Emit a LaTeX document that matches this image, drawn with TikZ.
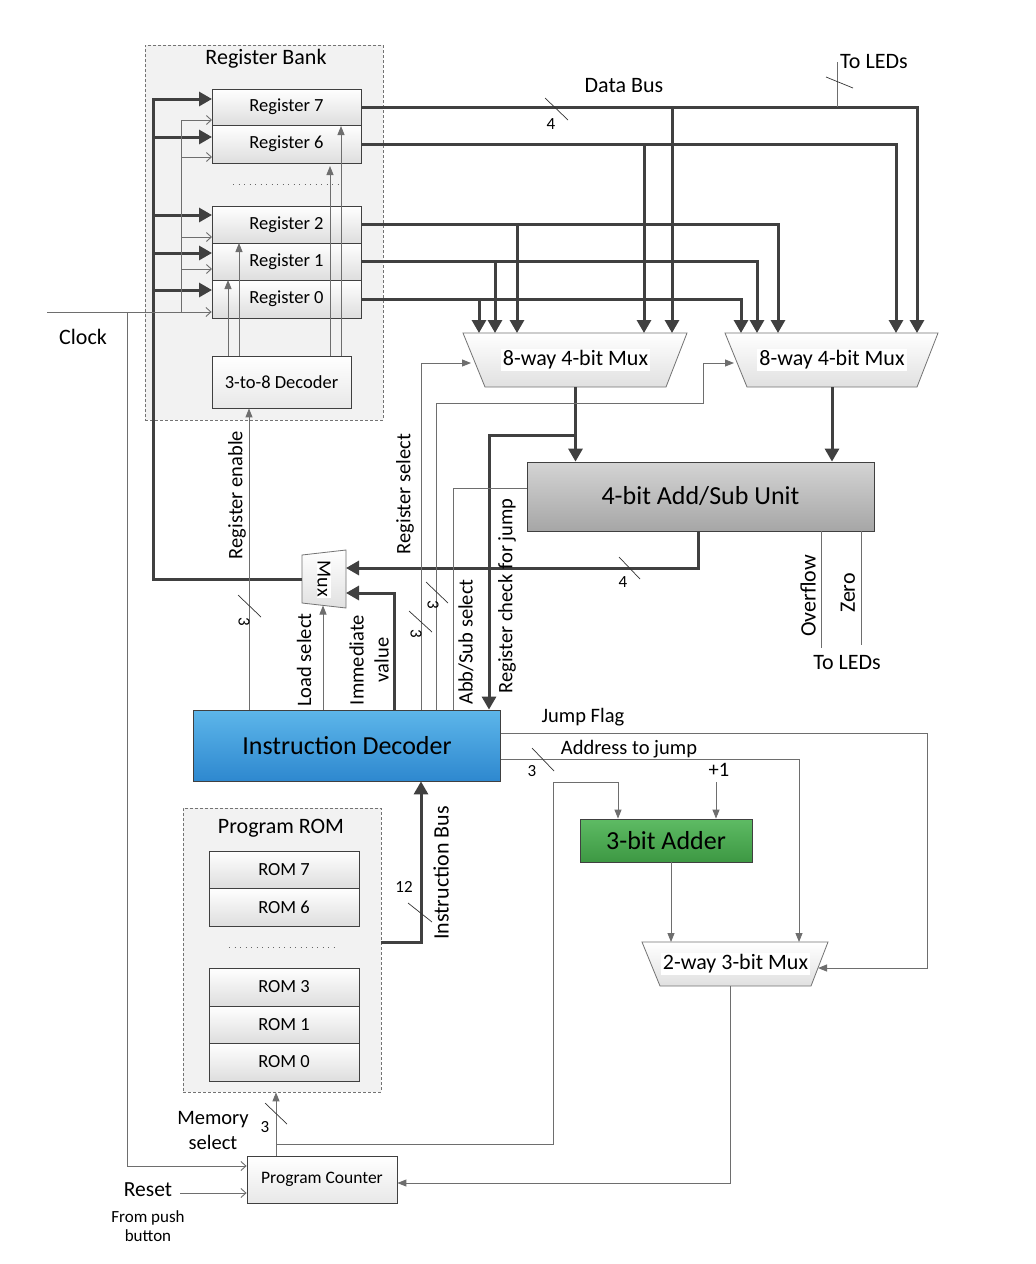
\documentclass[tikz,border=0pt]{standalone}
\usepackage{fontspec}
\setmainfont{Carlito}
\usetikzlibrary{arrows.meta,calc}
\definecolor{thk}{HTML}{404040}
\definecolor{thn}{HTML}{6E6E6E}
\definecolor{bankfill}{HTML}{F2F2F2}
\definecolor{idtop}{HTML}{5DB6EA}
\definecolor{idbot}{HTML}{2E88CF}
\definecolor{alutop}{HTML}{D4D4D4}
\definecolor{alubot}{HTML}{A6A6A6}
\definecolor{addtop}{HTML}{5EBB64}
\definecolor{addbot}{HTML}{3D9843}
\newcommand\fsreg{\fontsize{18.5}{22}\selectfont}
\newcommand\fsbig{\fontsize{26}{31}\selectfont}
\newcommand\fstitle{\fontsize{22}{26}\selectfont}
\newcommand\fslab{\fontsize{20.5}{25}\selectfont}
\newcommand\fssmall{\fontsize{17}{21}\selectfont}
\tikzset{
  bus/.style={draw=thk, line width=3pt},
  busarr/.style={bus, -{Triangle[width=14pt,length=13pt]}},
  sig/.style={draw=thn, line width=0.9pt},
  sigarr/.style={sig, -{Triangle[width=7pt,length=9pt]}},
  clkarr/.style={sig, -{Straight Barb[width=9pt,length=5pt]}},
  slash/.style={draw=black!80, line width=0.7pt},
  groupbox/.style={draw=black!55, dash pattern=on 3pt off 2pt, line width=0.7pt, fill=bankfill, inner sep=0pt},
  regbox/.style={draw=black!75, line width=0.8pt, top color=white, bottom color=black!13, minimum width=149pt, minimum height=37pt, inner sep=0pt, font=\fsreg},
  plainbox/.style={draw=black!75, line width=0.8pt, top color=white, bottom color=black!9, inner sep=0pt, font=\fsreg},
  muxbody/.style={inner sep=0pt, outer sep=0pt},
  muxshape/.style={draw=black!55, line width=0.8pt, top color=white, bottom color=black!12},
  muxtext/.style={fill=white, inner sep=2pt, font=\fstitle},
  lab/.style={font=\fslab, inner sep=0pt},
  vlab/.style={font=\fslab, inner sep=0pt, rotate=90},
  num/.style={font=\fssmall, inner sep=0pt},
  dots/.style={draw=black!60, line width=0.8pt, dash pattern=on 1pt off 4.5pt},
}
\begin{document}
\begin{tikzpicture}[x=1pt,y=-1pt]
\fill[white] (0,0) rectangle (1036,1264);
\path[use as bounding box] (0,0) rectangle (1036,1264);

% ---------------- Register bank
\node[groupbox, minimum width=238pt, minimum height=375pt] (bank) at (264,232.5) {};
\node[font=\fstitle] (banktitle) at (266,59) {Register Bank};
\node[regbox, minimum height=36pt] (reg7) at (286.5,107) {Register 7};
\node[regbox, minimum height=38pt] (reg6) at (286.5,144) {Register 6};
\node[regbox] (reg2) at (286.5,224.5) {Register 2};
\node[regbox] (reg1) at (286.5,261.5) {Register 1};
\node[regbox, minimum height=38pt] (reg0) at (286.5,299) {Register 0};
\coordinate (rdA) at (233,184); \coordinate (rdB) at (340,184);
\draw[dots] (rdA) -- (rdB);
\node[plainbox, minimum width=139pt, minimum height=52pt] (dec) at (281.5,382) {3-to-8 Decoder};

% decoder outputs
\coordinate (d0) at (228,280); \coordinate (d1) at (239,243);
\coordinate (d6) at (330,166); \coordinate (d7) at (341,126);
\foreach \c in {d0,d1,d6,d7} \draw[sigarr] (\c |- dec.north) -- (\c);

% ---------------- Program ROM
\node[groupbox, minimum width=198pt, minimum height=284pt] (rom) at (282,950) {};
\node[font=\fstitle] (romtitle) at (281,828) {Program ROM};
\node[regbox, minimum width=150pt, minimum height=37pt] (rom7) at (284,869.5) {ROM 7};
\node[regbox, minimum width=150pt, minimum height=38pt] (rom6) at (284,907) {ROM 6};
\coordinate (rmA) at (229,947); \coordinate (rmB) at (339,947);
\draw[dots] (rmA) -- (rmB);
\node[regbox, minimum width=150pt, minimum height=38pt] (rom3) at (284,987) {ROM 3};
\node[regbox, minimum width=150pt, minimum height=37pt] (rom1) at (284,1024.5) {ROM 1};
\node[regbox, minimum width=150pt, minimum height=38pt] (rom0) at (284,1062) {ROM 0};

% ---------------- Main blocks
\node[draw=thk, line width=0.8pt, top color=alutop, bottom color=alubot, minimum width=347pt, minimum height=69pt, font=\fsbig] (alu) at (700.5,496.5) {4-bit Add/Sub Unit};
\node[draw=thk, line width=0.8pt, top color=idtop, bottom color=idbot, minimum width=307pt, minimum height=71pt, font=\fsbig] (idec) at (347,745.5) {Instruction Decoder};
\node[draw=thk, line width=0.8pt, top color=addtop, bottom color=addbot, minimum width=172pt, minimum height=43pt, font=\fsbig] (adder) at (666,840.5) {3-bit Adder};
\node[plainbox, minimum width=150pt, minimum height=47pt, font=\fontsize{17.5}{21}\selectfont] (pc) at (322,1179.5) {Program Counter};

% muxes
\node[muxbody, minimum width=181pt, minimum height=54pt] (mux1) at (575.5,360) {};
\path[muxshape] ($(mux1.north west)+(-22,0)$) -- ($(mux1.north east)+(21,0)$) -- (mux1.south east) -- (mux1.south west) -- cycle;
\node[muxtext] (mux1t) at (mux1) {8-way 4-bit Mux};
\node[muxbody, minimum width=170pt, minimum height=54pt] (mux2) at (832,360) {};
\path[muxshape] ($(mux2.north west)+(-22,0)$) -- ($(mux2.north east)+(21,0)$) -- (mux2.south east) -- (mux2.south west) -- cycle;
\node[muxtext] (mux2t) at (mux2) {8-way 4-bit Mux};
\node[muxbody, minimum width=151pt, minimum height=44pt] (mux3) at (735.5,964) {};
\path[muxshape] ($(mux3.north west)+(-18,0)$) -- ($(mux3.north east)+(17,0)$) -- (mux3.south east) -- (mux3.south west) -- cycle;
\node[muxtext] (mux3t) at (mux3) {2-way 3-bit Mux};
\node[muxbody, minimum width=44pt, minimum height=58pt] (smux) at (324,579) {};
\path[muxshape] ($(smux.north west)+(0,5)$) -- (smux.north east) -- (smux.south east) -- ($(smux.south west)+(0,-5)$) -- cycle;
\node[fill=white, inner sep=1pt, font=\fontsize{20}{24}\selectfont, rotate=-90] (smuxt) at (smux) {Mux};

% ---------------- Data bus
\coordinate (m1a) at (479,333); \coordinate (m1b) at (495,333); \coordinate (m1c) at (517,333);
\coordinate (m1d) at (644,333); \coordinate (m1e) at (672,333);
\coordinate (m2a) at (741,333); \coordinate (m2b) at (757,333); \coordinate (m2c) at (778,333);
\coordinate (m2d) at (896,333); \coordinate (m2e) at (917,333);
\draw[busarr] (reg7.east) -| (m2e);
\draw[busarr] (reg6.east) -| (m2d);
\draw[busarr] (reg2.east) -| (m2c);
\draw[busarr] (reg1.east) -| (m2b);
\draw[busarr] (reg0.east) -| (m2a);
\draw[busarr] (m1e |- reg7.east) -- (m1e);
\draw[busarr] (m1d |- reg6.east) -- (m1d);
\draw[busarr] (m1c |- reg2.east) -- (m1c);
\draw[busarr] (m1b |- reg1.east) -- (m1b);
\draw[busarr] (m1a |- reg0.east) -- (m1a);
\node[font=\fstitle] (dbus) at (624,86) {Data Bus};
\coordinate (dsa) at (545,98); \coordinate (dsb) at (568,120);
\draw[slash] (dsa) -- (dsb);
\node[num] (dsn) at (551,124) {4};
% to LEDs (top)
\coordinate (ledtop) at (837,62);
\draw[sig] (ledtop |- reg7.east) -- (ledtop);
\coordinate (lsa) at (826,77); \coordinate (lsb) at (853,88);
\draw[slash] (lsa) -- (lsb);
\node[font=\fstitle, anchor=west, inner sep=0pt] (ledtxt) at (840,62) {To LEDs};

% mux outputs to ALU
\draw[busarr] (mux1.south) -- (mux1.south |- alu.north);
\draw[busarr] (mux2.south) -- (mux2.south |- alu.north);
% register check for jump
\coordinate (rcj) at (489,435);
\draw[busarr] (mux1.south |- rcj) -- (rcj) -- (rcj |- idec.north);
% ALU output to Mux
\coordinate (aluo) at (698,568);
\draw[busarr] (aluo |- alu.south) -- (aluo) -- (aluo -| smux.east);
\coordinate (asa) at (619,557); \coordinate (asb) at (640,579);
\draw[slash] (asa) -- (asb);
\node[num] (asn) at (623,582) {4};
% immediate value
\coordinate (imm) at (394,593);
\draw[busarr] (imm |- idec.north) -- (imm) -- (imm -| smux.east);
% mux output to registers
\coordinate (bustop) at (153,99);
\coordinate (b7) at (212,99);
\coordinate (b6) at (212,137); \coordinate (b2) at (212,215);
\coordinate (b1) at (212,253); \coordinate (b0) at (212,290);
\draw[busarr] (smux.west) -| (bustop) -- (b7);
\foreach \c in {b6,b2,b1,b0} \draw[busarr] (\c -| bustop) -- (\c);

% ---------------- Clock
\coordinate (clkin) at (47,312);
\coordinate (clkv) at (181,120);
\coordinate (clkpc) at (127,1166);
\coordinate (c7) at (212,120); \coordinate (c6) at (212,157);
\coordinate (c2) at (212,237); \coordinate (c1) at (212,269);
\draw[clkarr] (clkin) -- (clkin -| reg0.west);
\draw[sig] (clkin -| clkv) -- (clkv);
\foreach \c in {c7,c6,c2,c1} \draw[clkarr] (\c -| clkv) -- (\c);
\draw[clkarr] (clkin -| clkpc) -- (clkpc) -- (clkpc -| pc.west);
\node[font=\fstitle] (clktxt) at (83,337) {Clock};
% reset
\coordinate (rst) at (180,1193);
\draw[clkarr] (rst) -- (rst -| pc.west);
\node[font=\fontsize{21.5}{25}\selectfont] (rsttxt) at (148,1190) {Reset};
\node[font=\fssmall, align=center] (rsttxt2) at (148,1226) {From push\\[-2pt]button};

% ---------------- Decoder control signals
\coordinate (ren) at (249,500);
\draw[sigarr] (ren |- idec.north) -- (ren |- dec.south);
\coordinate (rea) at (238,595); \coordinate (reb) at (261,617);
\draw[slash] (rea) -- (reb);
\node[num, rotate=-90] (ren3) at (244,622) {3};
\node[vlab] (rentxt) at (237,495) {Register enable};

\coordinate (lds) at (323,605.5);
\draw[sigarr] (lds |- idec.north) -- (lds);
\node[vlab] (ldstxt) at (304,660) {Load select};
\node[vlab, align=center] (immtxt) at (369,660) {Immediate\\value};

\coordinate (rs1) at (421,363); \coordinate (rs1t) at (471,363);
\draw[sigarr] (rs1 |- idec.north) -- (rs1) -- (rs1t);
\coordinate (rs2) at (436,403); \coordinate (rs2b) at (703,403); \coordinate (rs2t) at (734,363);
\draw[sigarr] (rs2 |- idec.north) -- (rs2) -- (rs2b) -- (rs2b |- rs2t) -- (rs2t);
\node[vlab] (rstxt) at (405,494) {Register select};
\coordinate (rsa) at (409,611); \coordinate (rsb) at (432,632);
\draw[slash] (rsa) -- (rsb);
\node[num, rotate=-90] (rs3a) at (416,634) {3};
\coordinate (rsc) at (426,582); \coordinate (rsd) at (448,603);
\draw[slash] (rsc) -- (rsd);
\node[num, rotate=-90] (rs3b) at (433,605) {3};

\coordinate (abs) at (453,488);
\draw[sig] (abs |- idec.north) -- (abs) -- (abs -| alu.west);
\node[vlab] (abstxt) at (466,642) {Abb/Sub select};
\node[vlab] (rcjtxt) at (507,596) {Register check for jump};

% overflow / zero
\coordinate (ovf) at (821,648); \coordinate (zro) at (861,645);
\draw[sig] (ovf |- alu.south) -- (ovf);
\draw[sig] (zro |- alu.south) -- (zro);
\node[font=\fstitle, rotate=90, inner sep=0pt] (ovftxt) at (808,596) {Overflow};
\node[font=\fstitle, rotate=90, inner sep=0pt] (zrotxt) at (848,593) {Zero};
\node[font=\fstitle] (ledtxt2) at (847,663) {To LEDs};

% ---------------- Jump logic
\coordinate (jf) at (927,733); \coordinate (jfin) at (818,968);
\draw[sigarr] (jf -| idec.east) -- (jf) -- (jf |- jfin) -- (jfin);
\node[lab] (jftxt) at (583,717) {Jump Flag};
\coordinate (adr) at (799,759);
\draw[sigarr] (adr -| idec.east) -- (adr) -- (adr |- mux3.north);
\node[lab] (adrtxt) at (629,749) {Address to jump};
\coordinate (ada) at (532,748); \coordinate (adb) at (554,771);
\draw[slash] (ada) -- (adb);
\node[num] (adr3) at (532,771) {3};
\coordinate (plus) at (716,782);
\draw[sigarr] (plus) -- (plus |- adder.north);
\node[lab] (plustxt) at (719,770) {+1};
\coordinate (addo) at (671,900);
\draw[sigarr] (addo |- adder.south) -- (addo |- mux3.north);
\coordinate (m3o) at (730,1183);
\draw[sigarr] (m3o |- mux3.south) -- (m3o) -- (m3o -| pc.east);

% PC outputs
\coordinate (pco) at (276,1144);
\draw[sigarr] (pco |- pc.north) -- (pco |- rom.south);
\coordinate (pcb) at (553,782); \coordinate (pcbt) at (618,782);
\draw[sigarr] (pco) -- (pco -| pcb) -- (pcb) -- (pcbt) -- (pcbt |- adder.north);
\coordinate (msa) at (265,1103); \coordinate (msb) at (287,1124);
\draw[slash] (msa) -- (msb);
\node[num] (ms3) at (265,1127) {3};
\node[lab, align=center] (mstxt) at (213,1130) {Memory\\select};

% instruction bus
\coordinate (ib) at (421,942);
\draw[busarr] (ib -| rom.east) -- (ib) -- (ib |- idec.south);
\coordinate (iba) at (408,903); \coordinate (ibb) at (432,922);
\draw[slash] (iba) -- (ibb);
\node[num] (ib12) at (404,887) {12};
\node[font=\fstitle, rotate=90, inner sep=0pt] (ibtxt) at (441,873) {Instruction Bus};
\end{tikzpicture}
\end{document}
